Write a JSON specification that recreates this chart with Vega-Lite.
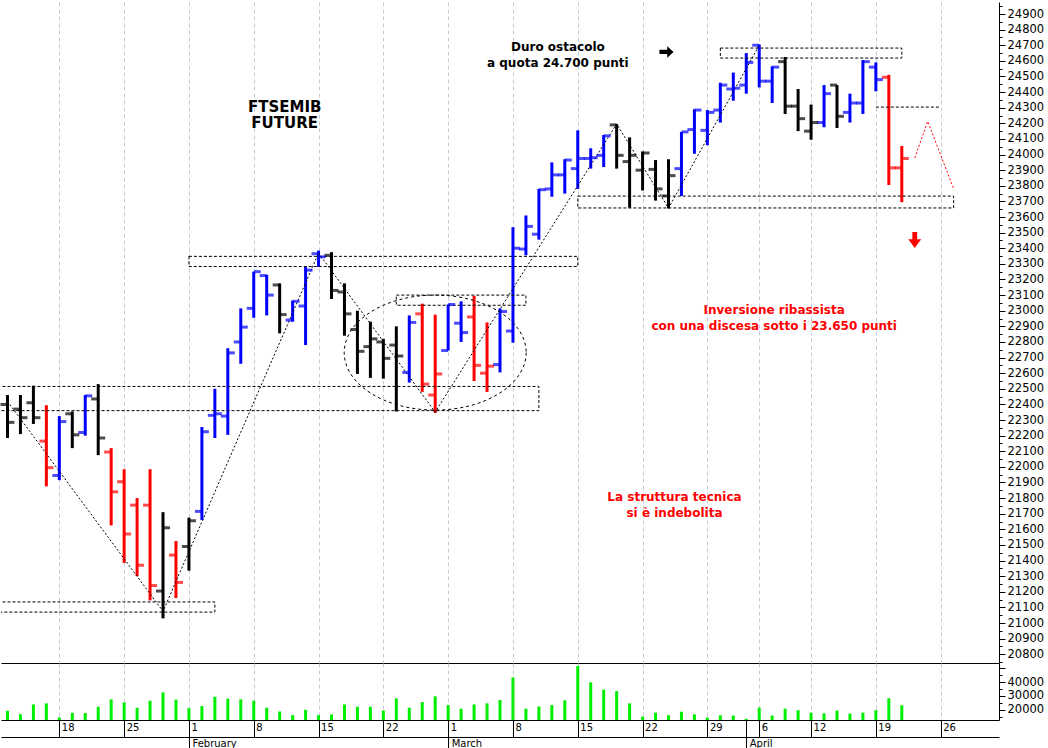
{
  "$schema": "https://vega.github.io/schema/vega-lite/v6.json",
  "padding": 0,
  "background": "white",
  "spacing": 0,
  "bounds": "flush",
  "config": {
    "view": {"stroke": null},
    "axis": {"labelFont": "DejaVu Sans", "labelColor": "black", "domainColor": "black", "tickColor": "black"}
  },
  "datasets": {
    "ohlc": [
      {"d": "2021-01-12", "o": 22400, "h": 22460, "l": 22185, "c": 22285, "t": "flat", "v": 19200},
      {"d": "2021-01-13", "o": 22370, "h": 22460, "l": 22210, "c": 22315, "t": "flat", "v": 16700},
      {"d": "2021-01-14", "o": 22410, "h": 22520, "l": 22275, "c": 22315, "t": "flat", "v": 23800},
      {"d": "2021-01-15", "o": 22165, "h": 22395, "l": 21875, "c": 21995, "t": "down", "v": 24600},
      {"d": "2021-01-18", "o": 21945, "h": 22325, "l": 21915, "c": 22290, "t": "up", "v": 14300},
      {"d": "2021-01-19", "o": 22340, "h": 22355, "l": 22120, "c": 22205, "t": "flat", "v": 17700},
      {"d": "2021-01-20", "o": 22220, "h": 22460, "l": 22200, "c": 22455, "t": "up", "v": 17500},
      {"d": "2021-01-21", "o": 22435, "h": 22530, "l": 22075, "c": 22185, "t": "flat", "v": 22100},
      {"d": "2021-01-22", "o": 22095, "h": 22120, "l": 21625, "c": 21840, "t": "down", "v": 27500},
      {"d": "2021-01-25", "o": 21905, "h": 21985, "l": 21385, "c": 21570, "t": "down", "v": 25300},
      {"d": "2021-01-26", "o": 21755, "h": 21800, "l": 21300, "c": 21370, "t": "down", "v": 21400},
      {"d": "2021-01-27", "o": 21755, "h": 21985, "l": 21145, "c": 21240, "t": "down", "v": 26500},
      {"d": "2021-01-28", "o": 21205, "h": 21710, "l": 21030, "c": 21610, "t": "flat", "v": 32600},
      {"d": "2021-01-29", "o": 21435, "h": 21525, "l": 21160, "c": 21260, "t": "down", "v": 27300},
      {"d": "2021-02-01", "o": 21490, "h": 21675, "l": 21335, "c": 21655, "t": "flat", "v": 21100},
      {"d": "2021-02-02", "o": 21715, "h": 22255, "l": 21660, "c": 22225, "t": "up", "v": 22600},
      {"d": "2021-02-03", "o": 22330, "h": 22500, "l": 22185, "c": 22340, "t": "up", "v": 29400},
      {"d": "2021-02-04", "o": 22325, "h": 22760, "l": 22205, "c": 22730, "t": "up", "v": 28000},
      {"d": "2021-02-05", "o": 22800, "h": 23015, "l": 22660, "c": 22895, "t": "up", "v": 27500},
      {"d": "2021-02-08", "o": 23015, "h": 23250, "l": 22955, "c": 23250, "t": "up", "v": 26500},
      {"d": "2021-02-09", "o": 23225, "h": 23230, "l": 22970, "c": 23100, "t": "up", "v": 21400},
      {"d": "2021-02-10", "o": 23165, "h": 23175, "l": 22855, "c": 22975, "t": "flat", "v": 18700},
      {"d": "2021-02-11", "o": 22940, "h": 23065, "l": 22930, "c": 23060, "t": "up", "v": 16000},
      {"d": "2021-02-12", "o": 23030, "h": 23285, "l": 22780, "c": 23260, "t": "up", "v": 19900},
      {"d": "2021-02-15", "o": 23365, "h": 23385, "l": 23280, "c": 23345, "t": "up", "v": 16000},
      {"d": "2021-02-16", "o": 23355, "h": 23375, "l": 23075, "c": 23130, "t": "flat", "v": 16500},
      {"d": "2021-02-17", "o": 23120, "h": 23175, "l": 22840, "c": 22980, "t": "flat", "v": 23800},
      {"d": "2021-02-18", "o": 22880, "h": 23000, "l": 22595, "c": 22740, "t": "flat", "v": 22100},
      {"d": "2021-02-19", "o": 22770, "h": 22930, "l": 22570, "c": 22820, "t": "flat", "v": 22100},
      {"d": "2021-02-22", "o": 22800, "h": 22820, "l": 22565, "c": 22695, "t": "flat", "v": 19400},
      {"d": "2021-02-23", "o": 22780, "h": 22900, "l": 22355, "c": 22710, "t": "flat", "v": 28200},
      {"d": "2021-02-24", "o": 22605, "h": 22970, "l": 22540, "c": 22925, "t": "up", "v": 21400},
      {"d": "2021-02-25", "o": 22980, "h": 23045, "l": 22480, "c": 22530, "t": "down", "v": 25500},
      {"d": "2021-02-26", "o": 22460, "h": 22975, "l": 22345, "c": 22595, "t": "down", "v": 29700},
      {"d": "2021-03-01", "o": 22745, "h": 23040, "l": 22745, "c": 23040, "t": "up", "v": 23300},
      {"d": "2021-03-02", "o": 22920, "h": 23060, "l": 22800, "c": 22860, "t": "up", "v": 20700},
      {"d": "2021-03-03", "o": 22960, "h": 23095, "l": 22550, "c": 22650, "t": "down", "v": 23800},
      {"d": "2021-03-04", "o": 22600, "h": 22925, "l": 22480, "c": 22645, "t": "down", "v": 24600},
      {"d": "2021-03-05", "o": 22655, "h": 23015, "l": 22605, "c": 22995, "t": "up", "v": 27000},
      {"d": "2021-03-08", "o": 22870, "h": 23535, "l": 22795, "c": 23400, "t": "up", "v": 43500},
      {"d": "2021-03-09", "o": 23395, "h": 23610, "l": 23355, "c": 23540, "t": "up", "v": 20700},
      {"d": "2021-03-10", "o": 23490, "h": 23780, "l": 23455, "c": 23775, "t": "up", "v": 22300},
      {"d": "2021-03-11", "o": 23780, "h": 23950, "l": 23730, "c": 23870, "t": "up", "v": 23300},
      {"d": "2021-03-12", "o": 23870, "h": 23970, "l": 23750, "c": 23965, "t": "up", "v": 26800},
      {"d": "2021-03-15", "o": 23910, "h": 24155, "l": 23780, "c": 23975, "t": "up", "v": 51800},
      {"d": "2021-03-16", "o": 23975, "h": 24040, "l": 23910, "c": 23980, "t": "up", "v": 39900},
      {"d": "2021-03-17", "o": 23995, "h": 24125, "l": 23920, "c": 24120, "t": "up", "v": 34600},
      {"d": "2021-03-18", "o": 24190, "h": 24195, "l": 23910, "c": 23995, "t": "flat", "v": 33500},
      {"d": "2021-03-19", "o": 23955, "h": 24110, "l": 23660, "c": 23995, "t": "flat", "v": 24600},
      {"d": "2021-03-22", "o": 23900, "h": 24020, "l": 23770, "c": 24010, "t": "flat", "v": 14900},
      {"d": "2021-03-23", "o": 23905, "h": 23965, "l": 23705, "c": 23780, "t": "flat", "v": 17800},
      {"d": "2021-03-24", "o": 23735, "h": 23970, "l": 23655, "c": 23865, "t": "flat", "v": 15900},
      {"d": "2021-03-25", "o": 23910, "h": 24145, "l": 23735, "c": 24145, "t": "up", "v": 18500},
      {"d": "2021-03-26", "o": 24160, "h": 24290, "l": 24005, "c": 24285, "t": "up", "v": 16600},
      {"d": "2021-03-29", "o": 24155, "h": 24285, "l": 24060, "c": 24270, "t": "up", "v": 14200},
      {"d": "2021-03-30", "o": 24285, "h": 24460, "l": 24205, "c": 24445, "t": "up", "v": 15900},
      {"d": "2021-03-31", "o": 24420, "h": 24525, "l": 24345, "c": 24425, "t": "up", "v": 15700},
      {"d": "2021-04-01", "o": 24445, "h": 24650, "l": 24390, "c": 24590, "t": "up", "v": 13300},
      {"d": "2021-04-06", "o": 24700, "h": 24705, "l": 24430, "c": 24470, "t": "up", "v": 21500},
      {"d": "2021-04-07", "o": 24470, "h": 24565, "l": 24330, "c": 24560, "t": "up", "v": 15700},
      {"d": "2021-04-08", "o": 24595, "h": 24625, "l": 24260, "c": 24310, "t": "flat", "v": 20700},
      {"d": "2021-04-09", "o": 24310, "h": 24420, "l": 24150, "c": 24230, "t": "flat", "v": 19600},
      {"d": "2021-04-12", "o": 24150, "h": 24320, "l": 24095, "c": 24205, "t": "flat", "v": 17800},
      {"d": "2021-04-13", "o": 24205, "h": 24445, "l": 24175, "c": 24390, "t": "up", "v": 17300},
      {"d": "2021-04-14", "o": 24445, "h": 24445, "l": 24170, "c": 24245, "t": "flat", "v": 19300},
      {"d": "2021-04-15", "o": 24270, "h": 24390, "l": 24205, "c": 24330, "t": "up", "v": 17100},
      {"d": "2021-04-16", "o": 24330, "h": 24605, "l": 24260, "c": 24595, "t": "up", "v": 17800},
      {"d": "2021-04-19", "o": 24560, "h": 24590, "l": 24405, "c": 24480, "t": "up", "v": 19600},
      {"d": "2021-04-20", "o": 24495, "h": 24510, "l": 23805, "c": 23915, "t": "down", "v": 28300},
      {"d": "2021-04-21", "o": 23915, "h": 24055, "l": 23695, "c": 23975, "t": "down", "v": 23200}
    ],
    "boxes": [
      {"d": "2021-02-01", "d2": "2021-03-15", "p": 23283, "p2": 23348},
      {"d": "2021-02-23", "d2": "2021-03-09", "p": 23035, "p2": 23100},
      {"d": "2021-03-15", "d2": "2021-04-27", "p": 23658, "p2": 23734},
      {"d": "2021-03-30", "d2": "2021-04-21", "p": 24618, "p2": 24682}
    ],
    "edgeboxes": [
      {"d": "2021-01-12", "d2": "2021-02-03", "p": 21070, "p2": 21135},
      {"d": "2021-01-12", "d2": "2021-03-10", "p": 22360, "p2": 22515}
    ],
    "trend": [
      {"d": "2021-01-12", "p": 22420},
      {"d": "2021-01-28", "p": 21075},
      {"d": "2021-02-15", "p": 23369},
      {"d": "2021-02-26", "p": 22351},
      {"d": "2021-03-18", "p": 24196},
      {"d": "2021-03-24", "p": 23657},
      {"d": "2021-04-06", "p": 24700}
    ],
    "projection": [
      {"d": "2021-04-22", "p": 23978},
      {"d": "2021-04-23", "p": 24213},
      {"d": "2021-04-27", "p": 23781}
    ],
    "level": [
      {"d": "2021-04-19", "d2": "2021-04-26", "p": 24304}
    ]
  },
  "vconcat": [
    {
      "width": 998,
      "height": 661,
      "encoding": {
        "x": {
          "field": "d",
          "type": "ordinal",
          "scale": {
            "type": "point",
            "padding": 0.5,
            "domain": ["2021-01-12","2021-01-13","2021-01-14","2021-01-15","2021-01-18","2021-01-19","2021-01-20","2021-01-21","2021-01-22","2021-01-25","2021-01-26","2021-01-27","2021-01-28","2021-01-29","2021-02-01","2021-02-02","2021-02-03","2021-02-04","2021-02-05","2021-02-08","2021-02-09","2021-02-10","2021-02-11","2021-02-12","2021-02-15","2021-02-16","2021-02-17","2021-02-18","2021-02-19","2021-02-22","2021-02-23","2021-02-24","2021-02-25","2021-02-26","2021-03-01","2021-03-02","2021-03-03","2021-03-04","2021-03-05","2021-03-08","2021-03-09","2021-03-10","2021-03-11","2021-03-12","2021-03-15","2021-03-16","2021-03-17","2021-03-18","2021-03-19","2021-03-22","2021-03-23","2021-03-24","2021-03-25","2021-03-26","2021-03-29","2021-03-30","2021-03-31","2021-04-01","2021-04-06","2021-04-07","2021-04-08","2021-04-09","2021-04-12","2021-04-13","2021-04-14","2021-04-15","2021-04-16","2021-04-19","2021-04-20","2021-04-21","2021-04-22","2021-04-23","2021-04-26","2021-04-27","2021-04-28","2021-04-29","2021-04-30"]
          },
          "axis": {
            "orient": "bottom",
            "values": ["2021-01-18","2021-01-25","2021-02-01","2021-02-08","2021-02-15","2021-02-22","2021-03-01","2021-03-08","2021-03-15","2021-03-22","2021-03-29","2021-04-06","2021-04-12","2021-04-19","2021-04-26"],
            "grid": true,
            "gridColor": "#c8c8dc",
            "gridDash": [4, 3],
            "labels": false,
            "ticks": false,
            "domain": true,
            "title": null
          }
        }
      },
      "layer": [
        {
          "data": {"name": "ohlc"},
          "mark": {"type": "rule", "strokeWidth": 3},
          "encoding": {
            "y": {
              "field": "h",
              "type": "quantitative",
              "scale": {"domain": [20744, 24977], "nice": false, "zero": false},
              "axis": {
                "orient": "right",
                "title": null,
                "grid": false,
                "tickCount": 200,
                "values": [20750,20800,20850,20900,20950,21000,21050,21100,21150,21200,21250,21300,21350,21400,21450,21500,21550,21600,21650,21700,21750,21800,21850,21900,21950,22000,22050,22100,22150,22200,22250,22300,22350,22400,22450,22500,22550,22600,22650,22700,22750,22800,22850,22900,22950,23000,23050,23100,23150,23200,23250,23300,23350,23400,23450,23500,23550,23600,23650,23700,23750,23800,23850,23900,23950,24000,24050,24100,24150,24200,24250,24300,24350,24400,24450,24500,24550,24600,24650,24700,24750,24800,24850,24900,24950],
                "labelExpr": "datum.value % 100 == 0 ? '' + datum.value : ''",
                "labelOverlap": false,
                "labelFontSize": 11.5,
                "labelPadding": 2,
                "tickSize": {"condition": {"test": "datum.value % 100 != 0", "value": 3}, "value": 6}
              }
            },
            "y2": {"field": "l"},
            "color": {"field": "t", "type": "nominal", "scale": {"domain": ["up", "down", "flat"], "range": ["#0000ff", "#ff0000", "#000000"]}, "legend": null}
          }
        },
        {
          "data": {"name": "boxes"},
          "mark": {"type": "rect", "filled": false, "color": "black", "strokeWidth": 1, "strokeDash": [3, 2]},
          "encoding": {
            "x2": {"field": "d2"},
            "y": {"field": "p", "type": "quantitative"},
            "y2": {"field": "p2"}
          }
        },
        {
          "data": {"name": "edgeboxes"},
          "mark": {"type": "rect", "filled": false, "color": "black", "strokeWidth": 1, "strokeDash": [3, 2], "xOffset": -10, "clip": true},
          "encoding": {
            "x2": {"field": "d2"},
            "y": {"field": "p", "type": "quantitative"},
            "y2": {"field": "p2"}
          }
        },
        {
          "data": {"name": "trend"},
          "mark": {"type": "line", "color": "black", "strokeWidth": 1, "strokeDash": [2, 2]},
          "encoding": {
            "y": {"field": "p", "type": "quantitative"}
          }
        },
        {
          "data": {"name": "projection"},
          "mark": {"type": "line", "color": "#ff0000", "strokeWidth": 1, "strokeDash": [2, 2]},
          "encoding": {
            "y": {"field": "p", "type": "quantitative"}
          }
        },
        {
          "data": {"name": "level"},
          "mark": {"type": "rule", "color": "black", "strokeWidth": 1, "strokeDash": [3, 2]},
          "encoding": {
            "x2": {"field": "d2"},
            "y": {"field": "p", "type": "quantitative"}
          }
        },
        {
          "data": {"values": [{"d": "2021-02-26", "p": 22732}]},
          "mark": {"type": "point", "shape": "M 1 0 C 1 0.349 0.552 0.632 0 0.632 C -0.552 0.632 -1 0.349 -1 0 C -1 -0.349 -0.552 -0.632 0 -0.632 C 0.552 -0.632 1 -0.349 1 0 Z", "size": 33124, "filled": false, "color": "black", "strokeWidth": 1, "strokeDash": [3, 3], "opacity": 1},
          "encoding": {
            "y": {"field": "p", "type": "quantitative"}
          }
        },
        {
          "data": {"name": "ohlc"},
          "mark": {"type": "tick", "orient": "horizontal", "size": 7, "thickness": 3, "xOffset": -3.5},
          "encoding": {
            "y": {"field": "o", "type": "quantitative"},
            "color": {"field": "t", "type": "nominal", "legend": null}
          }
        },
        {
          "data": {"name": "ohlc"},
          "mark": {"type": "tick", "orient": "horizontal", "size": 7, "thickness": 3, "xOffset": 3.5},
          "encoding": {
            "y": {"field": "c", "type": "quantitative"},
            "color": {"field": "t", "type": "nominal", "legend": null}
          }
        },
        {
          "data": {"values": [{"d": "2021-03-24", "p": 24657}]},
          "mark": {"type": "point", "shape": "M -1 -0.3 L 0.1 -0.3 L 0.1 -0.8 L 1 0 L 0.1 0.8 L 0.1 0.3 L -1 0.3 Z", "size": 200, "filled": true, "color": "black", "opacity": 1, "xOffset": -2},
          "encoding": {
            "y": {"field": "p", "type": "quantitative"}
          }
        },
        {
          "data": {"values": [{"d": "2021-04-22", "p": 23453}]},
          "mark": {"type": "point", "shape": "M -0.3 -1 L 0.3 -1 L 0.3 -0.1 L 0.8 -0.1 L 0 1 L -0.8 -0.1 L -0.3 -0.1 Z", "size": 260, "filled": true, "color": "#ff0000", "opacity": 1},
          "encoding": {
            "y": {"field": "p", "type": "quantitative"}
          }
        },
        {
          "data": {"values": [{"d": "2021-02-10", "p": 24304, "s": "FTSEMIB"}, {"d": "2021-02-10", "p": 24201, "s": "FUTURE"}]},
          "mark": {"type": "text", "font": "DejaVu Sans", "fontWeight": "bold", "fontSize": 15, "color": "black", "align": "center", "baseline": "middle", "dx": 5},
          "encoding": {
            "y": {"field": "p", "type": "quantitative"},
            "text": {"field": "s"}
          }
        },
        {
          "data": {"values": [{"d": "2021-03-11", "p": 24689, "s": "Duro ostacolo"}, {"d": "2021-03-11", "p": 24589, "s": "a quota 24.700 punti"}]},
          "mark": {"type": "text", "font": "DejaVu Sans", "fontWeight": "bold", "fontSize": 12, "color": "black", "align": "center", "baseline": "middle", "dx": 6},
          "encoding": {
            "y": {"field": "p", "type": "quantitative"},
            "text": {"field": "s"}
          }
        },
        {
          "data": {"values": [{"d": "2021-04-07", "p": 23004, "s": "Inversione ribassista"}, {"d": "2021-04-07", "p": 22905, "s": "con una discesa sotto i 23.650 punti"}]},
          "mark": {"type": "text", "font": "DejaVu Sans", "fontWeight": "bold", "fontSize": 12, "color": "#ff0000", "align": "center", "baseline": "middle", "dx": 2},
          "encoding": {
            "y": {"field": "p", "type": "quantitative"},
            "text": {"field": "s"}
          }
        },
        {
          "data": {"values": [{"d": "2021-03-24", "p": 21807, "s": "La struttura tecnica"}, {"d": "2021-03-24", "p": 21706, "s": "si è indebolita"}]},
          "mark": {"type": "text", "font": "DejaVu Sans", "fontWeight": "bold", "fontSize": 12, "color": "#ff0000", "align": "center", "baseline": "middle", "dx": 6},
          "encoding": {
            "y": {"field": "p", "type": "quantitative"},
            "text": {"field": "s"}
          }
        }
      ]
    },
    {
      "width": 998,
      "height": 57,
      "resolve": {"axis": {"x": "independent"}},
      "layer": [
        {
          "data": {"name": "ohlc"},
          "mark": {"type": "rule", "strokeWidth": 3, "color": "#00ee00"},
          "encoding": {
            "x": {
              "field": "d",
              "type": "ordinal",
              "scale": {
                "type": "point",
                "padding": 0.5,
                "domain": ["2021-01-12","2021-01-13","2021-01-14","2021-01-15","2021-01-18","2021-01-19","2021-01-20","2021-01-21","2021-01-22","2021-01-25","2021-01-26","2021-01-27","2021-01-28","2021-01-29","2021-02-01","2021-02-02","2021-02-03","2021-02-04","2021-02-05","2021-02-08","2021-02-09","2021-02-10","2021-02-11","2021-02-12","2021-02-15","2021-02-16","2021-02-17","2021-02-18","2021-02-19","2021-02-22","2021-02-23","2021-02-24","2021-02-25","2021-02-26","2021-03-01","2021-03-02","2021-03-03","2021-03-04","2021-03-05","2021-03-08","2021-03-09","2021-03-10","2021-03-11","2021-03-12","2021-03-15","2021-03-16","2021-03-17","2021-03-18","2021-03-19","2021-03-22","2021-03-23","2021-03-24","2021-03-25","2021-03-26","2021-03-29","2021-03-30","2021-03-31","2021-04-01","2021-04-06","2021-04-07","2021-04-08","2021-04-09","2021-04-12","2021-04-13","2021-04-14","2021-04-15","2021-04-16","2021-04-19","2021-04-20","2021-04-21","2021-04-22","2021-04-23","2021-04-26","2021-04-27","2021-04-28","2021-04-29","2021-04-30"]
              },
              "axis": {
                "orient": "bottom",
                "values": ["2021-01-18","2021-01-25","2021-02-01","2021-02-08","2021-02-15","2021-02-22","2021-03-01","2021-03-08","2021-03-15","2021-03-22","2021-03-29","2021-04-01","2021-04-06","2021-04-12","2021-04-19","2021-04-26"],
                "grid": true,
                "gridColor": "#c8c8dc",
                "gridDash": [4, 3],
                "gridOpacity": {"condition": {"test": "datum.value == '2021-04-01'", "value": 0}, "value": 1},
                "tickSize": 17,
                "labelAngle": 0,
                "labelAlign": "left",
                "labelBaseline": "top",
                "labelPadding": -15,
                "labelOffset": 2,
                "labelFontSize": 10,
                "labelOverlap": false,
                "labelExpr": "datum.value == '2021-04-01' ? '' : '' + toNumber(substring(datum.value, 8, 10))",
                "title": null
              }
            },
            "y": {
              "field": "v",
              "type": "quantitative",
              "scale": {"domain": [12460, 54000], "nice": false, "zero": false},
              "axis": {
                "orient": "right",
                "title": null,
                "grid": false,
                "tickCount": 20,
                "values": [15000, 20000, 25000, 30000, 35000, 40000, 45000, 50000],
                "labelExpr": "(datum.value == 20000 || datum.value == 30000 || datum.value == 40000) ? '' + datum.value : ''",
                "labelOverlap": false,
                "labelFontSize": 11.5,
                "labelPadding": 2,
                "tickSize": {"condition": {"test": "datum.value % 10000 != 0", "value": 3}, "value": 6}
              }
            },
            "y2": {"datum": 12460}
          }
        },
        {
          "data": {"values": [{"d": "2021-02-01"}, {"d": "2021-03-01"}, {"d": "2021-04-01"}]},
          "mark": {"type": "rule", "opacity": 0},
          "encoding": {
            "x": {
              "field": "d",
              "type": "ordinal",
              "axis": {
                "orient": "bottom",
                "values": ["2021-02-01", "2021-03-01", "2021-04-01"],
                "offset": 17,
                "tickSize": 13,
                "grid": false,
                "domain": true,
                "labelAngle": 0,
                "labelAlign": "left",
                "labelBaseline": "top",
                "labelPadding": -12,
                "labelOffset": 3,
                "labelFontSize": 10,
                "labelOverlap": false,
                "labelExpr": "datum.value == '2021-02-01' ? 'February' : datum.value == '2021-03-01' ? 'March' : 'April'",
                "title": null
              }
            }
          }
        }
      ]
    }
  ]
}
